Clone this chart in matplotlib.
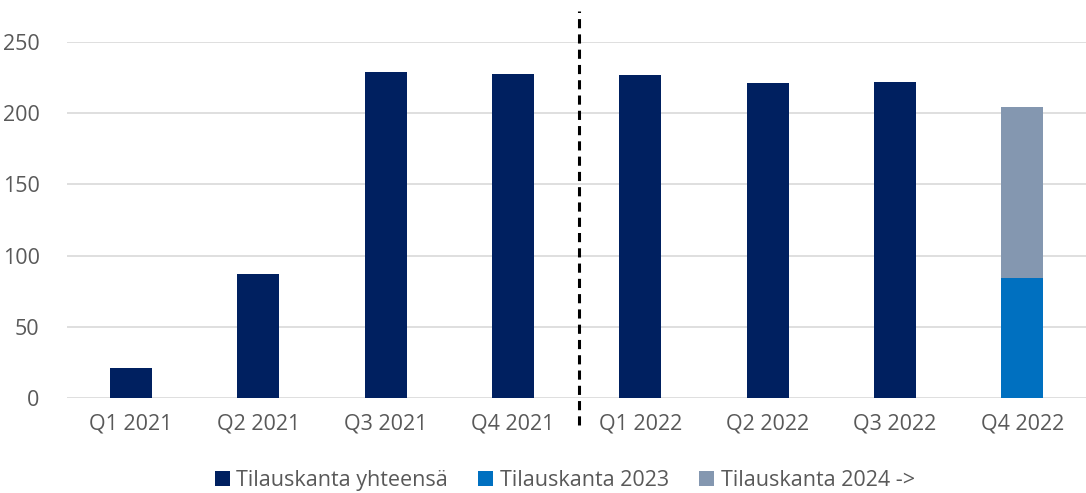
import matplotlib
matplotlib.use("Agg")
import matplotlib.pyplot as plt
import numpy as np

plt.rcParams.update({"font.family": ["Open Sans", "DejaVu Sans"], "font.size": 15.5})

kvartaalit = ["Q1 2021", "Q2 2021", "Q3 2021", "Q4 2021", "Q1 2022", "Q2 2022", "Q3 2022", "Q4 2022"]
yhteensa = [21, 87, 229, 227.5, 226.5, 221, 222, 0]
kanta_2023 = [0, 0, 0, 0, 0, 0, 0, 84.5]
kanta_2024 = [0, 0, 0, 0, 0, 0, 0, 119.5]

c_yht = "#002060"
c_2023 = "#0070C0"
c_2024 = "#8497B0"
harmaa = "#595959"

fig = plt.figure(figsize=(10.86, 4.93), dpi=100)
ax = fig.add_axes([0.062, 0.192, 0.938, 0.723])
x = np.arange(len(kvartaalit))
w = 0.33
ax.bar(x, yhteensa, w, color=c_yht, label="Tilauskanta yhteensä", zorder=3)
ax.bar(x, kanta_2023, w, color=c_2023, label="Tilauskanta 2023", zorder=3)
ax.bar(x, kanta_2024, w, bottom=kanta_2023, color=c_2024, label="Tilauskanta 2024 ->", zorder=3)

ax.set_xlim(-0.5, len(kvartaalit) - 0.5)
ax.set_ylim(0, 250)
ax.set_yticks(range(0, 251, 50))
ax.set_xticks(x)
ax.set_xticklabels(kvartaalit)
ax.grid(axis="y", color="#D9D9D9", linewidth=1.2, zorder=0)
for s in ax.spines.values():
    s.set_visible(False)
ax.tick_params(length=0, colors=harmaa, labelsize=15.5)
ax.tick_params(axis="x", pad=11)
ax.tick_params(axis="y", pad=20)

# katkoviiva vuosien välissä
ax.plot([3.52, 3.52], [-19, 272], color="black", linestyle=(0, (3, 2)), linewidth=2.2,
        clip_on=False, zorder=4)

leg = fig.legend(loc="lower center", bbox_to_anchor=(0.52, -0.035), ncol=3, frameon=False,
                 handlelength=0.7, handleheight=0.7, handletextpad=0.3, columnspacing=1.4,
                 fontsize=15.5)
for t in leg.get_texts():
    t.set_color(harmaa)

fig.savefig("out.png", dpi=100)
